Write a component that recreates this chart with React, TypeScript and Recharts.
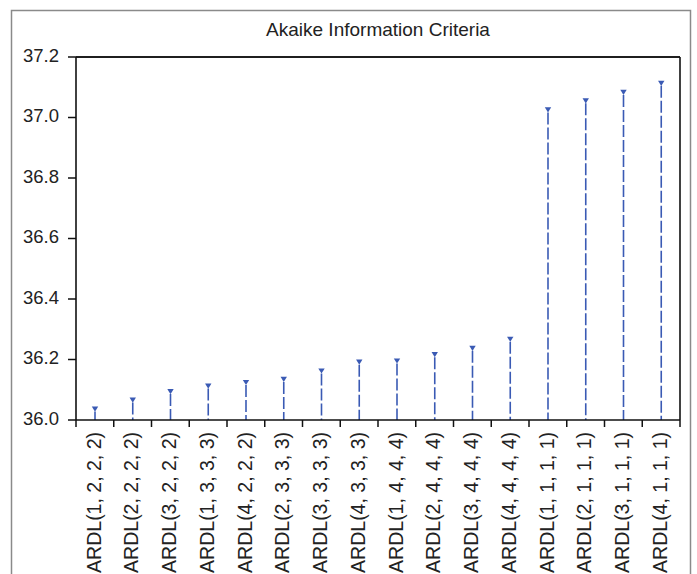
import React from 'react';
import { ComposedChart, Bar, XAxis, YAxis, ReferenceLine } from 'recharts';

const categories = [
  'ARDL(1, 2, 2, 2)', 'ARDL(2, 2, 2, 2)', 'ARDL(3, 2, 2, 2)', 'ARDL(1, 3, 3, 3)',
  'ARDL(4, 2, 2, 2)', 'ARDL(2, 3, 3, 3)', 'ARDL(3, 3, 3, 3)', 'ARDL(4, 3, 3, 3)',
  'ARDL(1, 4, 4, 4)', 'ARDL(2, 4, 4, 4)', 'ARDL(3, 4, 4, 4)', 'ARDL(4, 4, 4, 4)',
  'ARDL(1, 1, 1, 1)', 'ARDL(2, 1, 1, 1)', 'ARDL(3, 1, 1, 1)', 'ARDL(4, 1, 1, 1)',
];
const aicValues = [
  36.036, 36.066, 36.094, 36.112, 36.124, 36.134, 36.162, 36.191,
  36.195, 36.216, 36.237, 36.267, 37.025, 37.055, 37.083, 37.113,
];
const yTicks = [36.0, 36.2, 36.4, 36.6, 36.8, 37.0, 37.2];
const title = 'Akaike Information Criteria';

const data = categories.map((name, i) => ({ name, aic: aicValues[i] }));

const FONT = '"Liberation Sans", Arial, Helvetica, sans-serif';
const BLUE = '#3a5ab4';
const INK = '#111111';
const TEXT = '#222222';

// layout
const W = 697;
const H = 574;
const MARGIN = { top: 57, right: 17, bottom: 0, left: 0 };
const Y_AXIS_W = 76;
const X_AXIS_H = 154;
const PLOT_LEFT = MARGIN.left + Y_AXIS_W;
const PLOT_TOP = MARGIN.top;
const PLOT_RIGHT = W - MARGIN.right;
const PLOT_BOTTOM = H - MARGIN.bottom - X_AXIS_H;

function Stem(props: any) {
  const { x, y, width, height } = props;
  const cx = x + width / 2;
  return (
    <g>
      <line x1={cx} y1={y + 2.5} x2={cx} y2={y + height} stroke={BLUE} strokeWidth={1.6} strokeDasharray="12 3" />
      <polygon points={`${cx - 3.2},${y - 2.6} ${cx + 3.2},${y - 2.6} ${cx},${y + 2.6}`} fill={BLUE} />
    </g>
  );
}

function XTick(props: any) {
  const { x, y, payload } = props;
  const off = payload && typeof payload.offset === 'number' && payload.offset > 0 ? payload.offset : 18.875;
  const axisY = y - 12;
  const isLast = payload.value === categories[categories.length - 1];
  return (
    <g>
      <line x1={x - off} y1={axisY} x2={x - off} y2={axisY + 7} stroke={INK} strokeWidth={1.5} />
      {isLast && <line x1={x + off} y1={axisY} x2={x + off} y2={axisY + 7} stroke={INK} strokeWidth={1.5} />}
      <text
        x={x}
        y={y}
        transform={`rotate(-90 ${x} ${y})`}
        textAnchor="end"
        dy="0.3em"
        fontSize={19.5}
        fontFamily={FONT}
        fill={TEXT}
      >
        {payload.value}
      </text>
    </g>
  );
}

function YTick(props: any) {
  const { x, y, payload } = props;
  return (
    <text x={x} y={y} textAnchor="end" dy="0.25em" fontSize={18.5} fontFamily={FONT} fill={TEXT}>
      {Number(payload.value).toFixed(1)}
    </text>
  );
}

export default function App() {
  return (
    <div style={{ position: 'fixed', left: 0, top: 0, width: W, height: H, overflow: 'hidden', background: '#fff' }}>
      <svg
        width={W}
        height={H}
        style={{ position: 'absolute', left: 0, top: 0 }}
      >
        <rect x={11.5} y={10.5} width={679} height={700} fill="#ffffff" stroke="#8a8a8a" strokeWidth={1.5} />
        <line x1={PLOT_LEFT} y1={PLOT_TOP} x2={PLOT_RIGHT} y2={PLOT_TOP} stroke={INK} strokeWidth={1.6} />
        <line x1={PLOT_RIGHT} y1={PLOT_TOP} x2={PLOT_RIGHT} y2={PLOT_BOTTOM} stroke={INK} strokeWidth={1.6} />
        <text x={(PLOT_LEFT + PLOT_RIGHT) / 2} y={36} textAnchor="middle" fontSize={19} fontFamily={FONT} fill={TEXT}>
          {title}
        </text>
      </svg>
      <div style={{ position: 'absolute', left: 0, top: 0 }}>
        <ComposedChart width={W} height={H} data={data} margin={MARGIN}>
          <XAxis
            dataKey="name"
            height={X_AXIS_H}
            interval={0}
            tickSize={7}
            tickMargin={5}
            tickLine={false}
            axisLine={{ stroke: INK, strokeWidth: 1.6 }}
            tick={<XTick />}
          />
          <YAxis
            domain={[36, 37.2]}
            ticks={yTicks}
            width={Y_AXIS_W}
            tickSize={8}
            tickMargin={9}
            allowDataOverflow
            tickLine={{ stroke: INK, strokeWidth: 1.5 }}
            axisLine={{ stroke: INK, strokeWidth: 1.6 }}
            tick={<YTick />}
          />
          <ReferenceLine y={37.2} stroke={INK} strokeWidth={1.6} ifOverflow="extendDomain" />
          <Bar dataKey="aic" barSize={10} shape={<Stem />} isAnimationActive={false} />
        </ComposedChart>
      </div>
    </div>
  );
}
